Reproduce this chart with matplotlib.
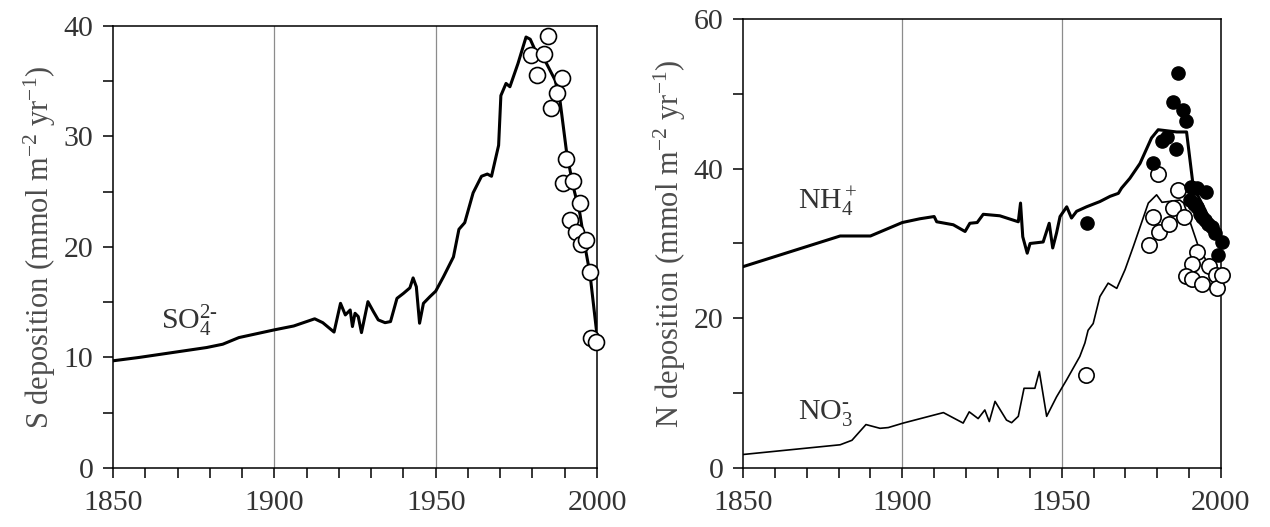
import matplotlib
matplotlib.use("Agg")
import matplotlib.pyplot as plt
from matplotlib.ticker import MultipleLocator

# Fonts: Times-like serif everywhere, mathtext too
plt.rcParams['font.family'] = ['Liberation Serif', 'DejaVu Serif']
plt.rcParams['mathtext.fontset'] = 'custom'
plt.rcParams['mathtext.rm'] = 'Liberation Serif'
plt.rcParams['mathtext.it'] = 'Liberation Serif:italic'

#%%
# Data

# Left panel: SO4 deposition
so4_years = [1850, 1858, 1879, 1884, 1889, 1900, 1906, 1912.5, 1915, 1918.5,
             1920.5, 1922, 1923.5, 1924.2, 1925, 1926, 1927, 1929, 1930.7, 1932.2,
             1934.3, 1936, 1938, 1940, 1942, 1943, 1944, 1945, 1946.2, 1948.2,
             1950, 1952.4, 1955.5, 1957.2, 1959, 1961.6, 1964.2, 1966, 1967.3, 1969.5,
             1970.2, 1971.8, 1973, 1975.5, 1978, 1979.3, 1981.3, 1984, 1987, 1988.5,
             1990.6, 1992.6, 1994.7, 1996.3, 1997.8, 2000]
so4_model = [9.7, 10.0, 10.9, 11.2, 11.8, 12.5, 12.85, 13.5, 13.15, 12.3,
             14.9, 13.85, 14.3, 12.8, 14.0, 13.7, 12.25, 15.05, 14.15, 13.4,
             13.15, 13.25, 15.35, 15.8, 16.3, 17.2, 16.4, 13.1, 14.9, 15.5,
             16.0, 17.3, 19.1, 21.6, 22.2, 24.9, 26.4, 26.6, 26.4, 29.2,
             33.7, 34.8, 34.5, 36.6, 39.0, 38.8, 37.5, 36.8, 35.1, 33.3,
             28.5, 25.5, 23.0, 20.0, 17.6, 12.0]

so4_obs_years = [1979.5, 1981.5, 1983.5, 1984.8, 1985.6, 1987.6, 1989, 1990.5, 1989.3,
                 1992.5, 1994.7, 1991.5, 1993.4, 1995, 1996.6, 1997.8, 1998.2, 1999.8]
so4_obs = [37.4, 35.6, 37.5, 39.1, 32.6, 33.9, 35.3, 28.0, 25.8,
           26.0, 24.0, 22.4, 21.4, 20.3, 20.6, 17.7, 11.8, 11.4]

# Right panel: NH4 and NO3 deposition
nh4_years = [1850, 1880.5, 1890, 1900, 1905.5, 1910, 1910.8, 1916, 1919.7, 1921.2,
             1923.5, 1925.4, 1930.6, 1936.4, 1937.1, 1937.8, 1939.2, 1940.1, 1944.2, 1946.1,
             1947.2, 1948.4, 1949.5, 1951.6, 1953.1, 1954.7, 1957.8, 1962, 1965.2, 1967.8,
             1968.8, 1971.4, 1974.6, 1978.2, 1980.3, 1986.1, 1989.2, 1991.3, 1995, 2000]
nh4_model = [26.9, 31.0, 31.0, 32.8, 33.3, 33.6, 32.9, 32.5, 31.6, 32.7,
             32.8, 33.9, 33.7, 32.9, 35.4, 30.9, 28.7, 30.0, 30.2, 32.7,
             29.4, 31.4, 33.6, 34.9, 33.4, 34.3, 34.9, 35.6, 36.3, 36.7,
             37.4, 38.7, 40.7, 44.1, 45.2, 44.9, 44.9, 37.6, 34.5, 29.5]

nh4_obs_years = [1958.0, 1978.7, 1981.5, 1983.0, 1985.0, 1986.6, 1986.0, 1988.1, 1989.1,
                 1990.6, 1992.4, 1995.4, 1990.3, 1991.4, 1992.4, 1993.4, 1994.2, 1995.0,
                 1996.0, 1997.1, 1998.0, 2000.2, 1999.1]
nh4_obs = [32.8, 40.7, 43.7, 44.2, 48.9, 52.8, 42.6, 47.8, 46.3,
           37.5, 37.4, 36.9, 35.8, 35.3, 34.9, 34.0, 33.6, 33.1,
           32.6, 32.2, 31.4, 30.2, 28.5]

no3_years = [1850, 1880.5, 1884.2, 1888.6, 1893, 1895.6, 1900.3, 1912.9, 1919.1, 1921,
             1923.8, 1925.9, 1927.3, 1929.1, 1932.7, 1934.3, 1936.4, 1938.2, 1941.6, 1943,
             1945.3, 1948.4, 1951.6, 1955.7, 1957.3, 1958.3, 1959.9, 1962, 1964.6, 1967.3,
             1969.9, 1972.5, 1977.2, 1979.8, 1981.5, 1987.1, 1988.3, 1992.9, 1997.6, 2000]
no3_model = [1.8, 3.1, 3.7, 5.8, 5.3, 5.4, 6.0, 7.4, 6.0, 7.5,
             6.6, 7.75, 6.2, 8.9, 6.4, 6.05, 6.9, 10.65, 10.65, 12.9,
             6.9, 9.5, 11.8, 14.9, 16.7, 18.4, 19.3, 22.9, 24.7, 24.0,
             26.5, 29.6, 35.4, 36.5, 35.5, 35.8, 35.4, 29.6, 26.0, 25.6]

no3_obs_years = [1957.8, 1977.3, 1978.6, 1980.5, 1980.3, 1983.7, 1985.0, 1986.4, 1988.3,
                 1992.6, 1991.0, 1989.0, 1990.8, 1994.0, 1996.3, 1998.4, 1998.6, 2000.3]
no3_obs = [12.4, 29.8, 33.5, 31.6, 39.3, 32.6, 34.8, 37.1, 33.5,
           28.9, 27.2, 25.7, 25.2, 24.6, 27.0, 25.8, 24.1, 25.8]

#%%
# Figure and shared styling
fig = plt.figure(figsize=(12.7, 5.27), dpi=100)

ax1 = fig.add_axes([0.0890, 0.112, 0.3811, 0.8387])
ax2 = fig.add_axes([0.5850, 0.112, 0.3764, 0.8520])

tick_col = '#333333'
label_col = '#4d4d4d'


def style_axis(ax, ymax, ystep, ylabel_step):
    ax.set_xlim(1850, 2000)
    ax.set_ylim(0, ymax)
    ax.xaxis.set_major_locator(MultipleLocator(50))
    ax.xaxis.set_minor_locator(MultipleLocator(10))
    ax.yaxis.set_major_locator(MultipleLocator(ylabel_step))
    ax.yaxis.set_minor_locator(MultipleLocator(ystep))
    ax.tick_params(which='both', direction='out', length=7, width=1.1,
                   top=False, right=False, colors='black')
    ax.tick_params(axis='both', which='major', labelsize=21.5, labelcolor=tick_col)
    ax.tick_params(axis='x', which='major', pad=9)
    ax.tick_params(axis='y', which='major', pad=7)
    for sp in ax.spines.values():
        sp.set_linewidth(1.1)
    # thin grey reference lines
    for yr in (1900, 1950):
        ax.axvline(yr, color='#8c8c8c', lw=0.9, zorder=1)


style_axis(ax1, 40, 5, 10)
style_axis(ax2, 60, 10, 20)

#%%
# Left: sulphate
ax1.plot(so4_years, so4_model, color='black', lw=2.2, zorder=3)
ax1.plot(so4_obs_years, so4_obs, 'o', ms=11.5, mfc='white', mec='black',
         mew=1.2, zorder=4, clip_on=False)
ax1.text(1865, 13.4, r'SO$_4^{2\text{-}}$', fontsize=21.5, color='#333333',
         ha='left', va='center')
ax1.set_ylabel(r'S deposition (mmol m$^{-2}$ yr$^{-1}$)', fontsize=22,
               color=label_col, labelpad=4)

#%%
# Right: ammonium and nitrate
ax2.plot(nh4_years, nh4_model, color='black', lw=2.2, zorder=3)
ax2.plot(no3_years, no3_model, color='black', lw=1.2, zorder=3)
ax2.plot(no3_obs_years, no3_obs, 'o', ms=11, mfc='white', mec='black',
         mew=1.2, zorder=4, clip_on=False)
ax2.plot(nh4_obs_years, nh4_obs, 'o', ms=9.5, mfc='black', mec='black',
         zorder=5, clip_on=False)
ax2.text(1867.3, 35.5, r'NH$_4^+$', fontsize=21.5, color='#333333',
         ha='left', va='center')
ax2.text(1867.3, 7.4, r'NO$_3^{\text{-}}$', fontsize=21.5, color='#333333',
         ha='left', va='center')
ax2.set_ylabel(r'N deposition (mmol m$^{-2}$ yr$^{-1}$)', fontsize=22,
               color=label_col, labelpad=4)

fig.savefig('out.png', dpi=100)
